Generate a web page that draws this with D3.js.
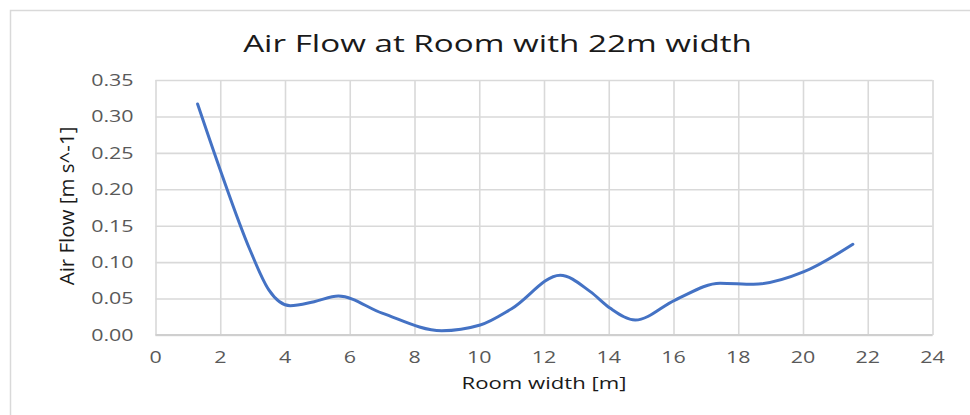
<!DOCTYPE html>
<html>
<head>
<meta charset="utf-8">
<script src="https://cdn.jsdelivr.net/npm/d3@7"></script>
<style>
  html, body { margin: 0; padding: 0; background: #fff; }
  svg { display: block; font-family: "Open Sans", "Noto Sans", sans-serif; }
</style>
</head>
<body>
<svg id="chart" width="970" height="415"></svg>
<script>
// Air flow measured across the room width
const roomWidth = [1.30, 2.00, 2.92, 3.50, 4.16, 4.90, 5.65, 7.00, 8.84, 10.03, 11.00, 12.50, 13.43, 14.05, 14.82, 16.05, 17.44, 18.47, 20.03, 21.54];
const airFlow   = [0.317, 0.2265, 0.1167, 0.0620, 0.0402, 0.0457, 0.0535, 0.030, 0.0059, 0.0137, 0.036, 0.082, 0.0595, 0.0366, 0.0206, 0.048, 0.071, 0.0696, 0.0869, 0.1245];

const xTicks = [0, 2, 4, 6, 8, 10, 12, 14, 16, 18, 20, 22, 24];
const yTicks = [0, 0.05, 0.10, 0.15, 0.20, 0.25, 0.30, 0.35];

const titleText = "Air Flow at Room with 22m width";
const xTitle = "Room width [m]";
const yTitle = "Air Flow [m s^-1]";

const svg = d3.select("#chart");
const plot = { left: 155.5, right: 932.5, top: 80, bottom: 335 };

const x = d3.scaleLinear().domain([0, 24]).range([plot.left, plot.right]);
const y = d3.scaleLinear().domain([0, 0.35]).range([plot.bottom, plot.top]);

// chart frame (top and left edges visible)
svg.append("path")
  .attr("d", "M10.5,415 V10.5 H970")
  .attr("fill", "none")
  .attr("stroke", "#d9d9d9")
  .attr("stroke-width", 1.5);

// title: text in this chart is drawn wide, so measure it and derive the stretch
const title = svg.append("text")
  .attr("text-anchor", "middle")
  .attr("font-size", 24)
  .attr("fill", "#1a1a1a")
  .text(titleText);
const stretch = 509 / title.node().getComputedTextLength();
title.attr("transform", `translate(497.5,51.5) scale(${stretch},1)`);

// gridlines
svg.append("g")
  .attr("transform", `translate(0,${plot.bottom})`)
  .call(d3.axisBottom(x).tickValues(xTicks).tickSize(-(plot.bottom - plot.top)).tickFormat(""))
  .call(g => g.select(".domain").remove())
  .call(g => g.selectAll("line").attr("stroke", "#d9d9d9").attr("stroke-width", 1.6));

svg.append("g")
  .attr("transform", `translate(${plot.left},0)`)
  .call(d3.axisLeft(y).tickValues(yTicks).tickSize(-(plot.right - plot.left)).tickFormat(""))
  .call(g => g.select(".domain").remove())
  .call(g => g.selectAll("line").attr("stroke", "#d9d9d9").attr("stroke-width", 1.6));

// bottom axis line
svg.append("line")
  .attr("x1", plot.left).attr("x2", plot.right)
  .attr("y1", plot.bottom).attr("y2", plot.bottom)
  .attr("stroke", "#cfcfcf").attr("stroke-width", 1.8);

// tick labels
const fmt = d3.format(".2f");
svg.append("g").selectAll("text")
  .data(xTicks).join("text")
  .attr("text-anchor", "middle")
  .attr("font-size", 15.5)
  .attr("fill", "#595959")
  .attr("transform", d => `translate(${x(d)},363) scale(${stretch},1)`)
  .text(d => d);

svg.append("g").selectAll("text")
  .data(yTicks).join("text")
  .attr("text-anchor", "end")
  .attr("font-size", 15.5)
  .attr("fill", "#595959")
  .attr("transform", d => `translate(133.5,${y(d) + 5.8}) scale(${stretch},1)`)
  .text(d => fmt(d));

// axis titles
svg.append("text")
  .attr("text-anchor", "middle")
  .attr("font-size", 16)
  .attr("fill", "#1a1a1a")
  .attr("transform", `translate(${(plot.left + plot.right) / 2},389) scale(${stretch},1)`)
  .text(xTitle);

svg.append("text")
  .attr("text-anchor", "middle")
  .attr("font-size", 20.5)
  .attr("fill", "#1a1a1a")
  .attr("transform", "translate(73.5,206) rotate(-90)")
  .text(yTitle);

// smoothed series line
const line = d3.line()
  .x(d => x(d[0]))
  .y(d => y(d[1]))
  .curve(d3.curveMonotoneX);

svg.append("path")
  .datum(d3.zip(roomWidth, airFlow))
  .attr("fill", "none")
  .attr("stroke", "#4472c4")
  .attr("stroke-width", 3)
  .attr("stroke-linecap", "round")
  .attr("stroke-linejoin", "round")
  .attr("d", line);
</script>
</body>
</html>
